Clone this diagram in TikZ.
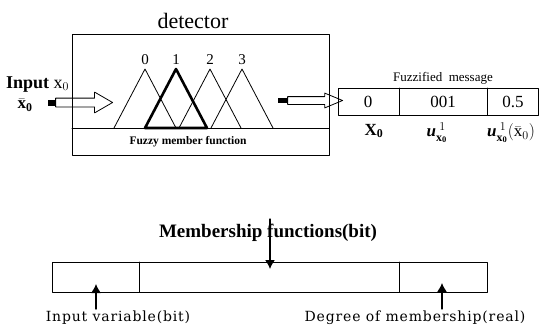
\documentclass[tikz,border=0pt]{standalone}
\usepackage{fontspec}
\setmainfont{Liberation Serif}
\newfontfamily\widefont[LetterSpace=6]{DejaVu Serif}
\usetikzlibrary{shapes.arrows,arrows.meta,positioning}
\begin{document}
\begin{tikzpicture}[x=1pt,y=-1pt, line join=round, line cap=round,
	box/.style={draw, line width=1pt, inner sep=0pt, anchor=north west},
	plug/.style={fill=black, inner sep=0pt},
	hollow/.style={single arrow, draw, line width=0.8pt, inner xsep=0pt, anchor=tail},
	tri/.style={line width=0.8pt},
	up/.style={-{Latex[length=9pt,width=10pt]}, line width=1.3pt},
	fs/.style={font=\fontsize{#1}{#1}\selectfont}]
	\useasboundingbox (0,0) rectangle (539,327);
	\node[box, minimum width=257pt, minimum height=121pt] (det) at (72,34) {};
	\node[fs=22, anchor=base] (dettitle) at (193,28) {detector};
	\draw[line width=1pt] (72,128) -- (329,128);
	\foreach \c in {145,176,210,242} \draw[tri] (\c-31,128) -- (\c,69) -- (\c+31,128);
	\draw[line width=2.6pt] (145,128) -- (176,69) -- (207,128) -- cycle;
	\foreach \c/\n in {145/0,176/1,210/2,242/3} \node[fs=15, anchor=base] at (\c,64) {\n};
	\node[fs=11.5, inner sep=1pt] (fmf) at (188,142) {\bfseries Fuzzy member function};
	\node[fs=18, anchor=base west, inner sep=0pt] (inlbl) at (6,88) {\textbf{Input} x$_0$};
	\node[fs=17, inner sep=0pt] (inbar) at (25,105) {$\bar{\hbox{\bfseries x}}_{\mathbf{0}}$};
	\node[plug, minimum width=7pt, minimum height=6pt] (insq) at (51.5,102.5) {};
	\node[hollow, inner ysep=4pt, minimum height=57pt, single arrow head extend=6pt, single arrow tip angle=60] (inarr) at (insq.east) {};
	\node[plug, minimum width=9pt, minimum height=5pt] (outsq) at (282.5,100.5) {};
	\node[hollow, inner ysep=3.5pt, minimum height=55pt, single arrow head extend=3.5pt, single arrow tip angle=45] (outarr) at (outsq.east) {};
	\node[box, minimum width=200pt, minimum height=27pt] (msg) at (338,88) {};
	\draw[line width=1pt] (399,88) -- (399,115) (487,88) -- (487,115);
	\node[fs=13, inner sep=1pt] (msglbl) at (443,78) {Fuzzified~~message};
	\node[fs=17, inner sep=0pt] (c0) at (368,101.5) {0};
	\node[fs=17, inner sep=0pt] (c1) at (443,101.5) {001};
	\node[fs=17, inner sep=0pt] (c2) at (513,101.5) {0.5};
	\node[fs=17, inner sep=0pt] (l0) at (374,131) {$\mathbf{X}_{\mathbf{0}}$};
	\node[fs=17, inner sep=0pt] (l1) at (437,133) {\textbf{\textit{u}}$_{\mathbf{x_0}}^{\;1}$};
	\node[fs=17, inner sep=0pt] (l2) at (511,133) {\textbf{\textit{u}}$_{\mathbf{x_0}}^{\;1}(\bar{\mathrm{x}}_0)$};
	\node[fs=19, inner sep=1pt] (memlbl) at (268,233) {\bfseries Membership functions(bit)};
	\node[box, minimum width=435pt, minimum height=30pt] (mem) at (52,262) {};
	\draw[line width=1pt] (139,262) -- (139,292) (399,262) -- (399,292);
	\coordinate (memtop) at (270,219);
	\coordinate (memtip) at (270,269);
	\draw[up] (memtop) -- (memtip);
	\node[fs=14, inner sep=1pt] (varlbl) at (118,318) {\widefont Input variable(bit)};
	\node[fs=14, inner sep=1pt] (deglbl) at (415,318) {\widefont Degree of membership(real)};
	\coordinate (vartip) at (96,284);
	\coordinate (degtip) at (442,283);
	\draw[up] (varlbl.north -| vartip) ++(0,-1) -- (vartip);
	\draw[up] (deglbl.north -| degtip) ++(0,-1) -- (degtip);
\end{tikzpicture}
\end{document}
